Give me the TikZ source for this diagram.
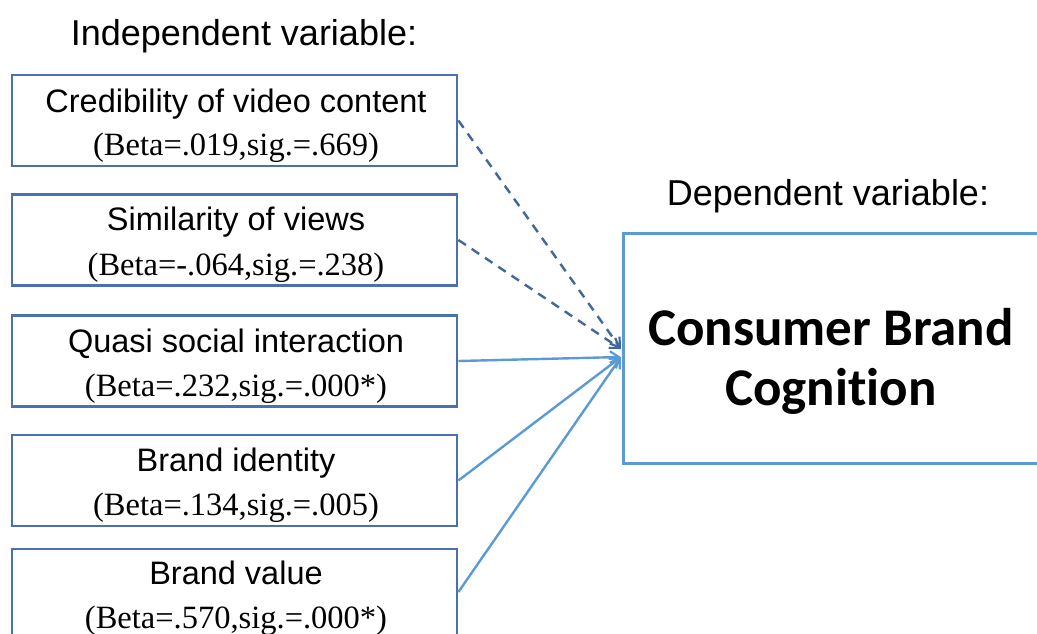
\documentclass[tikz,border=0pt]{standalone}
\usepackage{fontspec}
\setmainfont{Liberation Serif}
\newfontfamily\arialfont{Liberation Sans}
\newfontfamily\calfont[Ligatures=NoCommon]{Carlito}
\usetikzlibrary{arrows.meta}
\definecolor{boxblue}{HTML}{4A70B0}
\definecolor{bigblue}{HTML}{5B9BD5}
\definecolor{dashblue}{HTML}{41679F}
\tikzset{
  ibox/.style={draw=boxblue, line width=2.8pt, minimum width=445pt, minimum height=91pt, inner sep=0pt},
  dbox/.style={draw=bigblue, line width=3pt, minimum width=417pt, minimum height=230pt, inner sep=0pt},
  head/.style={anchor=base, font=\arialfont\fontsize{36}{40}\selectfont},
  vname/.style={anchor=base, font=\arialfont\fontsize{32.5}{38}\selectfont},
  stat/.style={anchor=base, font=\fontsize{32.5}{38}\selectfont},
  bigtext/.style={anchor=base, font=\calfont\bfseries\fontsize{53}{60}\selectfont},
  nsig/.style={draw=dashblue, line width=2.4pt, dash pattern=on 9pt off 7pt, -{Straight Barb[length=9pt,width=12pt,line width=2.2pt]}},
  sig/.style={draw=bigblue, line width=2.4pt, -{Straight Barb[length=9pt,width=12pt,line width=2.2pt]}}
}
\begin{document}
\begin{tikzpicture}[x=1pt,y=-1pt]
\useasboundingbox (0,0) rectangle (1037,633);
\clip (0,0) rectangle (1037,633);

% headings
\node[head] (hind) at (244,45) {Independent variable:};
\node[head] (hdep) at (828,205) {Dependent variable:};

% independent variable boxes
\node[ibox] (b1) at (234.5,120.5) {};
\node[ibox] (b2) at (234.5,240) {};
\node[ibox] (b3) at (234.5,361) {};
\node[ibox] (b4) at (234.5,480.5) {};
\node[ibox] (b5) at (234.5,594.5) {};

\node[vname] (t1) at (236,112) {Credibility of video content};
\node[stat]  (s1) at (236,155) {(Beta=.019,sig.=.669)};
\node[vname] (t2) at (236,230) {Similarity of views};
\node[stat]  (s2) at (236,275) {(Beta=-.064,sig.=.238)};
\node[vname] (t3) at (236,352) {Quasi social interaction};
\node[stat]  (s3) at (236,396) {(Beta=.232,sig.=.000*)};
\node[vname] (t4) at (236,471) {Brand identity};
\node[stat]  (s4) at (236,515) {(Beta=.134,sig.=.005)};
\node[vname] (t5) at (236,584) {Brand value};
\node[stat]  (s5) at (236,628) {(Beta=.570,sig.=.000*)};

% dependent variable box
\node[dbox] (dv) at (831.5,348) {};
\node[bigtext] (dvt1) at (831,345) {Consumer Brand};
\node[bigtext] (dvt2) at (831,405) {Cognition};

% effect paths
\coordinate (tdash) at (621,349);
\coordinate (tsolid) at (621,357);
\draw[nsig] (b1.east) -- (tdash);
\draw[nsig] (b2.east) -- (tdash);
\draw[sig] (b3.east) -- (tsolid);
\draw[sig] (b4.east) -- (tsolid);
\draw[sig] ([yshift=2.5pt]b5.east) -- (tsolid);
\end{tikzpicture}
\end{document}
